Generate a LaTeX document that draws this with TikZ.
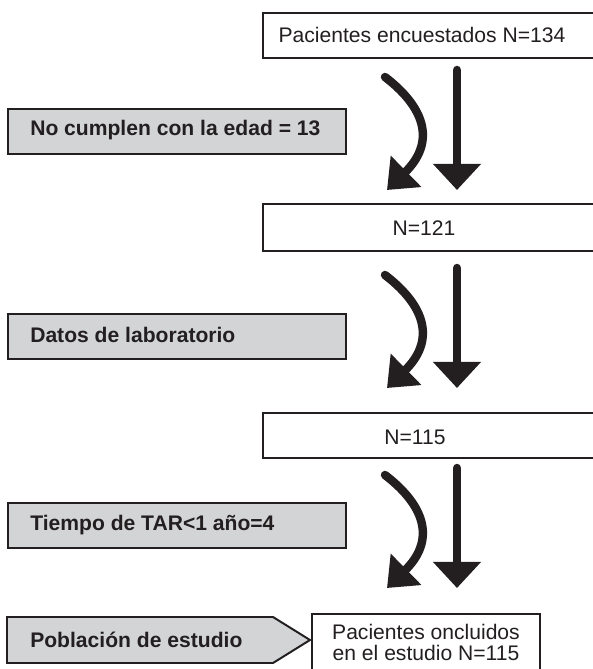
\documentclass[tikz,border=0pt]{standalone}
\usepackage{fontspec}
\setmainfont{Liberation Sans}
\usepackage{tikz}
\usetikzlibrary{arrows.meta,positioning}
\definecolor{boxgray}{RGB}{211,212,214}
\definecolor{ink}{RGB}{35,31,32}
\newlength\pxu
\setlength\pxu{0.025cm}
\tikzset{
  boxline/.style={draw=ink, line width=1.4pt},
  whitebox/.style={boxline, fill=white, rectangle, inner sep=0pt},
  graybox/.style={boxline, fill=boxgray, rectangle, inner sep=0pt},
  plain/.style={inner sep=0pt, text=ink, font=\fontsize{15}{15}\selectfont},
  bold/.style={inner sep=0pt, text=ink, anchor=west, font=\fontsize{15}{17}\selectfont\bfseries},
  flowstraight/.style={draw=ink, line width=6pt, line cap=round, -{Triangle[length=18.5pt,width=33pt]}},
  flowcurve/.style={draw=ink, line width=6pt, line cap=round, -{Triangle[length=19pt,width=30pt]}},
}

\begin{document}
\begin{tikzpicture}[x=0.025cm, y=-0.025cm]
\useasboundingbox (0,0) rectangle (592,669);

% right column
\node[whitebox, anchor=north west, minimum width=350\pxu, minimum height=45\pxu] (box134) at (262,12) {};
\node[plain] (n134) at (422,35) {Pacientes encuestados N=134};
\node[whitebox, anchor=north west, minimum width=350\pxu, minimum height=47\pxu] (box121) at (262,203) {};
\node[plain] (n121) at (424,228) {N=121};
\node[whitebox, anchor=north west, minimum width=350\pxu, minimum height=45\pxu] (box115) at (262,412) {};
\node[plain] (n115) at (415,437) {N=115};
\node[whitebox, anchor=north, minimum width=228\pxu, minimum height=75\pxu] (final) at (426,613) {};
\node[plain, align=center] (nfinal) at (426,642.5) {Pacientes oncluidos\\[0.5pt]en el estudio N=115};

% left column
\node[graybox, anchor=north west, minimum width=338\pxu, minimum height=45\pxu] (gray1) at (7,108) {};
\node[bold] (edad) at (30,130) {No cumplen con la edad = 13};
\node[graybox, anchor=north west, minimum width=338\pxu, minimum height=45\pxu] (gray2) at (7,313) {};
\node[bold] (lab) at (30,335) {Datos de laboratorio};
\node[graybox, anchor=north west, minimum width=338\pxu, minimum height=45\pxu] (gray3) at (7,502) {};
\node[bold] (tar) at (30,525) {Tiempo de TAR<1 año=4};
\draw[boxline, fill=boxgray] (7,617) -- (273,617) -- (310,640) -- (273,663) -- (7,663) -- cycle;
\node[bold] (pob) at (30,640) {Población de estudio};

% arrows
\foreach \t [count=\i] in {70,268,468} {
  \draw[flowstraight] (457,\t) -- (457,\t+120);
  \draw[flowcurve] (385,\t+7) .. controls (428,\t+40) and (434,\t+74) .. (387,\t+120);
}

\end{tikzpicture}
\end{document}
